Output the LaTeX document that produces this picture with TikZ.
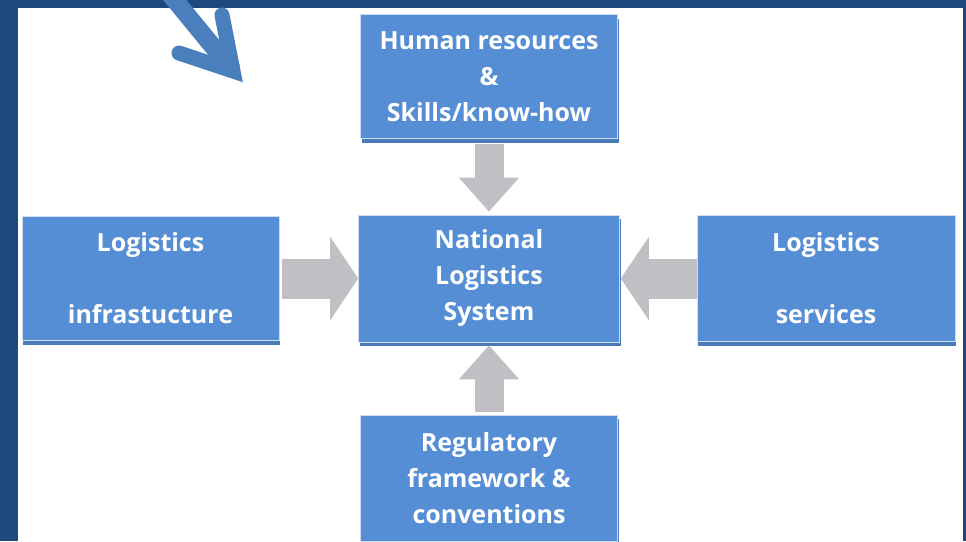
\documentclass[tikz,border=0pt]{standalone}
\usepackage{fontspec}
\setmainfont{Open Sans}
\usetikzlibrary{arrows.meta,shadows}
\definecolor{band}{RGB}{31,73,125}
\definecolor{boxfill}{RGB}{85,142,213}
\definecolor{boxshadow}{RGB}{74,122,184}
\definecolor{pointer}{RGB}{74,127,189}
\definecolor{connector}{RGB}{192,191,196}
\tikzset{
  box/.style={rectangle, fill=boxfill, draw=white!70!boxfill, line width=0.6pt,
    minimum width=257pt, minimum height=124pt, inner sep=0pt,
    text=white, align=center, font=\fontsize{25}{36}\selectfont\bfseries,
    drop shadow={shadow xshift=1pt, shadow yshift=-4pt, fill=boxshadow, opacity=1}},
  vconn/.style={draw=connector, line width=29pt,
    -{Triangle[length=34pt, width=58pt, fill=connector]}},
  hconn/.style={draw=connector, line width=40pt,
    -{Triangle[length=28pt, width=82pt, fill=connector]}},
}
\begin{document}
\begin{tikzpicture}[x=1pt, y=-1pt]
\useasboundingbox (0,0) rectangle (966,541);
\fill[white] (0,0) rectangle (966,541);
% frame bands
\fill[band] (0,0) rectangle (966,8);
\fill[band] (0,0) rectangle (18,541);
\fill[band] (963,0) rectangle (966,541);

% boxes
\node[box] (top) at (489,76.5) {Human resources\\\&\\Skills/know-how};
\node[box, minimum width=261pt, minimum height=127pt] (center) at (489,278.5) {National\\Logistics\\System};
\node[box] (left) at (150.5,278.5) {Logistics\\[36pt]infrastucture};
\node[box, minimum width=258pt, minimum height=126pt] (right) at (826,278.5) {Logistics\\[36pt]services};
\node[box, minimum height=126pt] (bottom) at (489,478) {Regulatory\\framework \&\\conventions};

% gray connectors
\draw[vconn] ([yshift=-5pt]top.south) -- ([yshift=3pt]center.north);
\draw[vconn] ([yshift=3pt]bottom.north) -- ([yshift=-3pt]center.south);
\draw[hconn] ([xshift=3pt]left.east) -- (center.west);
\draw[hconn] (right.west) -- ([xshift=1pt]center.east);

% blue pointer arrow at top left
\begin{scope}
\clip (0,0) rectangle (966,541);
\coordinate (ptail) at (160,-18);
\coordinate (pvertex) at (233,71);
\coordinate (pwingA) at (222,15);
\coordinate (pwingB) at (179,53);
\draw[pointer, line width=18pt] (ptail) -- (pvertex);
\draw[pointer, line width=15pt, line cap=round, line join=miter, miter limit=10]
  (pwingA) -- (pvertex) -- (pwingB);
\end{scope}
\end{tikzpicture}
\end{document}
